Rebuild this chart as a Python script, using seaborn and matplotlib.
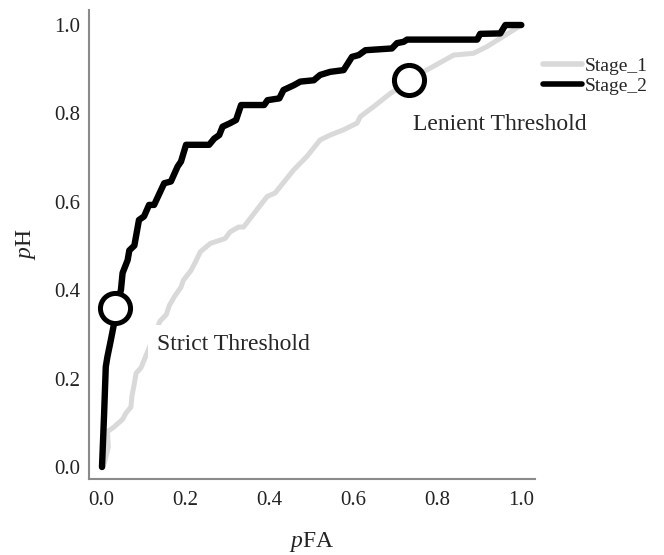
import matplotlib
matplotlib.use("Agg")
import matplotlib.pyplot as plt
import seaborn as sns
import pandas as pd

# ---- data ----
stage1_pfa = [0.005, 0.017, 0.015, 0.031, 0.051, 0.059, 0.071, 0.073, 0.079, 0.083, 0.095,
              0.140, 0.155, 0.162, 0.174, 0.190, 0.196, 0.214, 0.225, 0.236, 0.260, 0.295,
              0.307, 0.327, 0.339, 0.395, 0.414, 0.458, 0.490, 0.521, 0.545, 0.577, 0.609,
              0.617, 0.648, 0.688, 0.733, 0.767, 0.839, 0.886, 0.918, 0.982, 1.0]
stage1_ph = [0.0, 0.045, 0.080, 0.091, 0.108, 0.122, 0.136, 0.159, 0.189, 0.212, 0.225,
             0.330, 0.345, 0.365, 0.385, 0.407, 0.423, 0.445, 0.465, 0.487, 0.506, 0.517,
             0.532, 0.543, 0.543, 0.612, 0.620, 0.672, 0.703, 0.740, 0.751, 0.763, 0.778,
             0.793, 0.815, 0.845, 0.872, 0.894, 0.932, 0.936, 0.951, 0.989, 1.0]

stage2_pfa = [0.002, 0.007, 0.011, 0.015, 0.023, 0.031, 0.033, 0.047, 0.051, 0.063, 0.067,
              0.079, 0.090, 0.102, 0.114, 0.126, 0.150, 0.166, 0.182, 0.190, 0.202, 0.257,
              0.269, 0.281, 0.289, 0.305, 0.321, 0.333, 0.388, 0.396, 0.424, 0.434, 0.459,
              0.474, 0.506, 0.521, 0.545, 0.577, 0.597, 0.613, 0.629, 0.692, 0.704, 0.720,
              0.728, 0.895, 0.902, 0.950, 0.962, 1.0]
stage2_ph = [0.0, 0.120, 0.227, 0.250, 0.287, 0.326, 0.360, 0.400, 0.439, 0.468, 0.490,
             0.501, 0.559, 0.567, 0.593, 0.593, 0.642, 0.646, 0.680, 0.691, 0.729, 0.729,
             0.743, 0.751, 0.770, 0.777, 0.785, 0.819, 0.819, 0.830, 0.834, 0.853, 0.864,
             0.872, 0.875, 0.887, 0.894, 0.898, 0.928, 0.932, 0.943, 0.947, 0.959, 0.962,
             0.967, 0.967, 0.980, 0.981, 1.0, 1.0]

threshold_labels = ["Strict Threshold", "Lenient Threshold"]
threshold_pfa = [0.033, 0.733]
threshold_ph = [0.359, 0.876]

ticks = [0.0, 0.2, 0.4, 0.6, 0.8, 1.0]
tick_labels = ["0.0", "0.2", "0.4", "0.6", "0.8", "1.0"]

# ---- style ----
sns.set_theme(style="white")
plt.rcParams["font.family"] = ["Liberation Serif", "DejaVu Serif"]
plt.rcParams["mathtext.fontset"] = "custom"
plt.rcParams["mathtext.rm"] = "Liberation Serif"
plt.rcParams["mathtext.it"] = "Liberation Serif:italic"

df1 = pd.DataFrame({"pFA": stage1_pfa, "pH": stage1_ph})
df2 = pd.DataFrame({"pFA": stage2_pfa, "pH": stage2_ph})
dft = pd.DataFrame({"pFA": threshold_pfa, "pH": threshold_ph, "label": threshold_labels})

fig = plt.figure(figsize=(6.64, 5.55), dpi=100)
ax = fig.add_axes([0.134, 0.137, 0.672, 0.845])

sns.lineplot(data=df1, x="pFA", y="pH", sort=False, estimator=None, color="#d9d9d9",
             linewidth=3.6, label="Stage_1", ax=ax, zorder=2)
sns.lineplot(data=df2, x="pFA", y="pH", sort=False, estimator=None, color="black",
             linewidth=4.6, label="Stage_2", ax=ax, zorder=2.5)
sns.scatterplot(data=dft, x="pFA", y="pH", marker="o", s=470, facecolor="white",
                edgecolor="black", linewidth=3.6, ax=ax, zorder=4, legend=False)

ax.text(0.314, 0.278, threshold_labels[0], fontsize=17, ha="center", va="center",
        bbox=dict(facecolor="white", edgecolor="none", pad=6), zorder=3)
ax.text(0.95, 0.776, threshold_labels[1], fontsize=17, ha="center", va="center",
        bbox=dict(facecolor="white", edgecolor="none", pad=2), zorder=3)

ax.set_xlim(-0.029, 1.033)
ax.set_ylim(-0.027, 1.034)
ax.set_xticks(ticks)
ax.set_xticklabels(tick_labels)
ax.set_yticks(ticks)
ax.set_yticklabels(tick_labels)
ax.tick_params(axis="both", length=0, labelsize=15, colors="#222222")
ax.tick_params(axis="x", pad=9)
ax.tick_params(axis="y", pad=6)

ax.set_xlabel(r"$\it{p}$FA", fontsize=17, labelpad=14, color="#222222")
ax.set_ylabel(r"$\it{p}$H", fontsize=17, labelpad=12, color="#222222")

for side in ["top", "right"]:
    ax.spines[side].set_visible(False)
for side in ["left", "bottom"]:
    ax.spines[side].set_color("#8a8a8a")
    ax.spines[side].set_linewidth(1.5)

leg = ax.legend(loc="center left", bbox_to_anchor=(1.018, 0.859), frameon=False,
                fontsize=14, handlelength=2.0, handletextpad=0.15, labelspacing=0.15,
                borderaxespad=0, borderpad=0)
for line in leg.get_lines():
    line.set_linewidth(4)

fig.savefig("out.png", dpi=100)
